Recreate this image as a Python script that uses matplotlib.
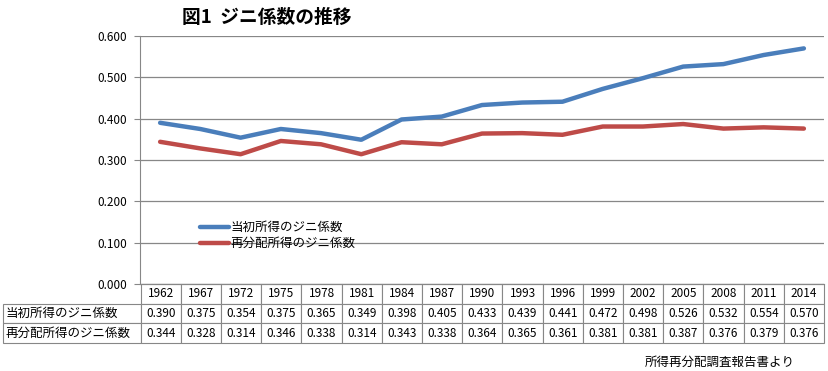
import matplotlib
matplotlib.use('Agg')

import matplotlib.pyplot as plt
from matplotlib.table import Table

plt.rcParams['font.family'] = ['Noto Sans CJK JP', 'DejaVu Sans']

# data
years = ['1962', '1967', '1972', '1975', '1978', '1981', '1984', '1987', '1990',
         '1993', '1996', '1999', '2002', '2005', '2008', '2011', '2014']
gini_initial = [0.390, 0.375, 0.354, 0.375, 0.365, 0.349, 0.398, 0.405, 0.433,
                0.439, 0.441, 0.472, 0.498, 0.526, 0.532, 0.554, 0.570]
gini_redist = [0.344, 0.328, 0.314, 0.346, 0.338, 0.314, 0.343, 0.338, 0.364,
               0.365, 0.361, 0.381, 0.381, 0.387, 0.376, 0.379, 0.376]
series_names = ['当初所得のジニ係数', '再分配所得のジニ係数']
yticks = [0.0, 0.1, 0.2, 0.3, 0.4, 0.5, 0.6]

BLUE = '#4A7EBB'
RED = '#BE4B48'
GRID = '#878787'

W, H = 829, 371
fig = plt.figure(figsize=(W / 100, H / 100), dpi=100)
ax = fig.add_axes([140 / W, 1 - 284 / H, 684 / W, 248 / H])

x = range(len(years))
ax.plot(x, gini_initial, color=BLUE, linewidth=3.2, solid_capstyle='round',
        label=series_names[0], zorder=3)
ax.plot(x, gini_redist, color=RED, linewidth=3.2, solid_capstyle='round',
        label=series_names[1], zorder=3)

ax.set_xlim(-0.5, len(years) - 0.5)
ax.set_ylim(0, 0.6)
ax.set_yticks(yticks)
ax.set_yticklabels([f'{v:.3f}' for v in yticks], fontsize=8.5)
ax.set_xticks([])
ax.tick_params(axis='y', length=4, width=0.8, color=GRID, pad=5)
ax.grid(True, axis='y', color=GRID, linewidth=0.9)
ax.set_axisbelow(True)
for side in ['top', 'right']:
    ax.spines[side].set_visible(False)
ax.spines['left'].set_color(GRID)
ax.spines['bottom'].set_color(GRID)

ax.legend(loc='center left', bbox_to_anchor=(0.088, 0.195), frameon=False,
          fontsize=9, handlelength=2.3, handletextpad=0.15, labelspacing=0.25,
          borderpad=0, borderaxespad=0)

# data table under the axes (header row + one row per series)
tbl = Table(ax, bbox=[-137 / 684, -59 / 248, 821 / 684, 59 / 248])
rows = [gini_initial, gini_redist]
for c, yr in enumerate(years):
    tbl.add_cell(0, c + 1, width=40, height=1, text=yr, loc='center')
for r, (name, vals) in enumerate(zip(series_names, rows), start=1):
    tbl.add_cell(r, 0, width=137, height=1, text=name, loc='left')
    for c, v in enumerate(vals):
        tbl.add_cell(r, c + 1, width=40, height=1, text=f'{v:.3f}', loc='center')
tbl.auto_set_font_size(False)
tbl.set_fontsize(8.5)
for (r, c), cell in tbl.get_celld().items():
    cell.set_edgecolor(GRID)
    cell.set_linewidth(0.8)
    cell.PAD = 0.02
    if c == 0:
        cell.get_text().set_fontsize(9)
ax.add_table(tbl)

fig.text(267 / W, 1 - 17 / H, '図1  ジニ係数の推移', ha='center', va='center',
         fontsize=13.5, fontweight='bold')
fig.text(795 / W, 1 - 362 / H, '所得再分配調査報告書より', ha='right', va='center',
         fontsize=9)

fig.savefig('out.png', dpi=100)
